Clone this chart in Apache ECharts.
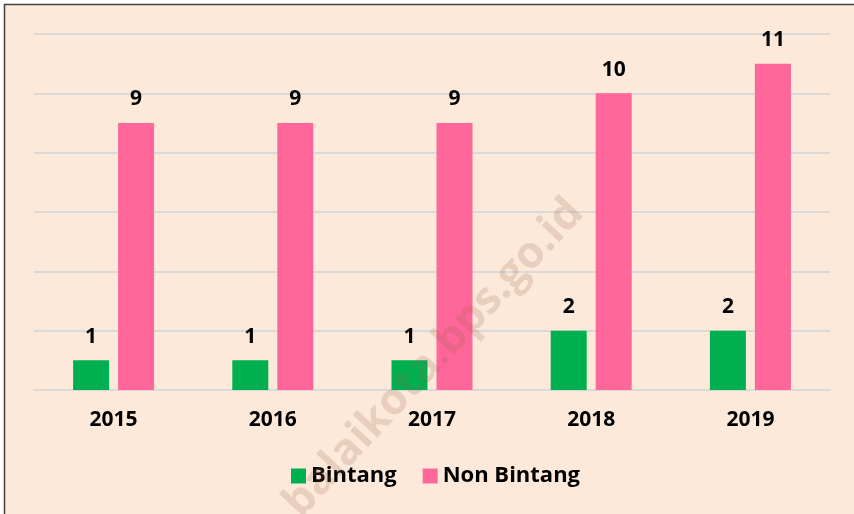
<!DOCTYPE html>
<html>
<head>
    <meta charset="utf-8">
    <title>Bintang vs Non Bintang</title>
    <script src="https://cdn.jsdelivr.net/npm/echarts@6/dist/echarts.min.js"></script>
</head>
<body style="margin:0">
    <div id="chart" style="width: 854px; height: 514px;"></div>

    <script>
        // data
        const years = ['2015', '2016', '2017', '2018', '2019'];
        const bintang = [1, 1, 1, 2, 2];
        const nonBintang = [9, 9, 9, 10, 11];

        const FONT = 'Open Sans';
        const chart = echarts.init(document.getElementById('chart'));

        const labelStyle = {
            show: true,
            position: 'top',
            distance: 13,
            color: '#000',
            fontFamily: FONT,
            fontWeight: 'bold',
            fontSize: 21
        };

        const option = {
            backgroundColor: '#ffffff',
            animation: false,
            graphic: [
                {
                    type: 'rect',
                    z: -10,
                    shape: { x: 4.5, y: 4.5, width: 900, height: 600 },
                    style: { fill: '#FDE9D9', stroke: '#404040', lineWidth: 1.5 },
                    silent: true
                },
                {
                    // watermark
                    type: 'text',
                    z: 100,
                    x: 434,
                    y: 358,
                    rotation: 47 * Math.PI / 180,
                    style: {
                        text: 'balaikota.bps.go.id',
                        fontFamily: FONT,
                        fontWeight: 'bold',
                        fontSize: 44,
                        fill: 'rgba(150, 100, 80, 0.2)',
                        align: 'center',
                        verticalAlign: 'middle'
                    },
                    silent: true
                }
            ],
            grid: { left: 34, right: 24, top: 34, bottom: 124 },
            legend: {
                bottom: 22,
                left: 286,
                itemWidth: 15,
                itemHeight: 15,
                itemGap: 26,
                icon: 'rect',
                textStyle: { fontFamily: FONT, fontWeight: 'bold', fontSize: 22, color: '#000' },
                data: ['Bintang', 'Non Bintang']
            },
            xAxis: {
                type: 'category',
                data: years,
                axisTick: { show: false },
                axisLine: { lineStyle: { color: '#D9D9D9', width: 2 } },
                axisLabel: {
                    margin: 20,
                    color: '#000',
                    fontFamily: FONT,
                    fontWeight: 'bold',
                    fontSize: 21
                }
            },
            yAxis: {
                type: 'value',
                min: 0,
                max: 12,
                interval: 2,
                axisLabel: { show: false },
                axisLine: { show: false },
                axisTick: { show: false },
                splitLine: { lineStyle: { color: '#D9D9D9', width: 2 } }
            },
            series: [
                {
                    name: 'Bintang',
                    type: 'bar',
                    data: bintang,
                    barWidth: 36,
                    barGap: '25%',
                    itemStyle: { color: '#00B050' },
                    label: labelStyle
                },
                {
                    name: 'Non Bintang',
                    type: 'bar',
                    data: nonBintang,
                    barWidth: 36,
                    itemStyle: { color: '#FF6699' },
                    label: labelStyle
                }
            ]
        };

        chart.setOption(option);
    </script>
</body>
</html>
